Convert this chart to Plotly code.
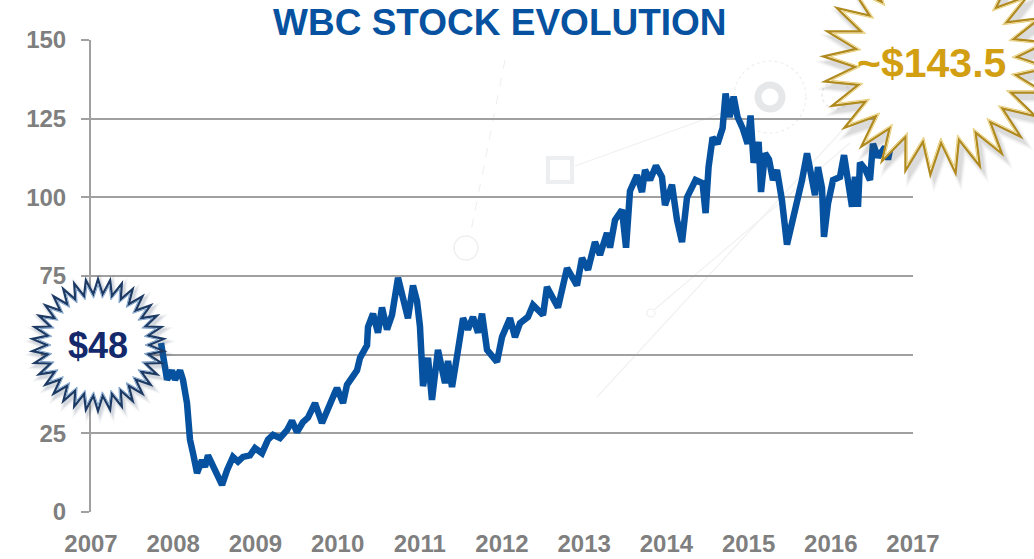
import math
import plotly.graph_objects as go

# ---------------- data ----------------
years = [2007.852, 2007.876, 2007.925, 2007.985, 2008.022, 2008.083, 2008.119, 2008.168,
         2008.204, 2008.241, 2008.290, 2008.350, 2008.387, 2008.423, 2008.484, 2008.545,
         2008.594, 2008.655, 2008.727, 2008.788, 2008.849, 2008.934, 2008.995, 2009.080,
         2009.153, 2009.214, 2009.299, 2009.384, 2009.445, 2009.506, 2009.579, 2009.640,
         2009.725, 2009.810, 2009.883, 2009.968, 2009.993, 2010.066, 2010.114, 2010.236,
         2010.273, 2010.358, 2010.370, 2010.431, 2010.491, 2010.540, 2010.601, 2010.662,
         2010.735, 2010.783, 2010.856, 2010.917, 2010.966, 2011.002, 2011.027, 2011.039,
         2011.100, 2011.148, 2011.221, 2011.307, 2011.343, 2011.392, 2011.465, 2011.526,
         2011.586, 2011.647, 2011.708, 2011.757, 2011.818, 2011.891, 2011.939, 2012.000,
         2012.097, 2012.158, 2012.219, 2012.316, 2012.377, 2012.499, 2012.547, 2012.681,
         2012.791, 2012.912, 2012.973, 2013.046, 2013.131, 2013.192, 2013.277, 2013.314,
         2013.375, 2013.460, 2013.509, 2013.557, 2013.642, 2013.703, 2013.740, 2013.801,
         2013.873, 2013.946, 2013.983, 2014.068, 2014.129, 2014.190, 2014.251, 2014.355,
         2014.440, 2014.477, 2014.513, 2014.562, 2014.623, 2014.684, 2014.720, 2014.769,
         2014.818, 2014.866, 2014.927, 2014.988, 2015.024, 2015.061, 2015.122, 2015.151,
         2015.200, 2015.248, 2015.297, 2015.345, 2015.406, 2015.467, 2015.528, 2015.589,
         2015.650, 2015.711, 2015.759, 2015.808, 2015.844, 2015.893, 2015.917, 2015.966,
         2016.027, 2016.112, 2016.161, 2016.209, 2016.258, 2016.294, 2016.331, 2016.355,
         2016.416, 2016.477, 2016.513, 2016.574, 2016.659, 2016.696, 2016.757]
prices = [53.7, 50.5, 42.0, 45.0, 42.0, 45.0, 42.0, 34.6,
          23.0, 18.7, 12.4, 16.5, 14.3, 18.0, 14.3, 11.0,
          8.6, 13.3, 17.5, 16.0, 17.5, 18.0, 20.3, 18.7,
          23.0, 24.5, 23.5, 26.0, 29.0, 25.4, 28.6, 30.0,
          34.6, 28.3, 33.4, 38.0, 39.4, 34.6, 40.4, 45.0,
          49.0, 53.0, 58.8, 63.0, 57.0, 65.0, 58.0, 62.6,
          74.4, 69.6, 61.6, 72.0, 67.0, 59.0, 48.0, 40.0,
          49.0, 35.6, 51.5, 41.0, 48.0, 39.7, 51.5, 61.6,
          58.0, 62.0, 57.0, 63.0, 51.5, 49.0, 47.7, 55.6,
          61.6, 55.6, 60.0, 62.0, 65.8, 62.6, 71.5, 65.0,
          77.5, 72.0, 80.7, 77.0, 85.8, 81.7, 88.7, 84.0,
          92.8, 96.0, 84.0, 102.0, 107.0, 101.7, 108.7, 105.5,
          110.0, 106.5, 97.5, 104.0, 92.8, 85.8, 100.0, 105.5,
          104.5, 95.0, 109.6, 119.0, 117.0, 122.0, 133.0, 125.5,
          132.0, 125.5, 122.0, 117.0, 126.0, 111.0, 117.6, 101.7,
          114.0, 112.0, 105.5, 108.7, 99.0, 85.0, 92.0, 97.0,
          105.5, 114.0, 107.7, 100.7, 109.6, 103.0, 87.4, 98.0,
          105.5, 106.5, 113.4, 105.5, 97.0, 106.5, 97.0, 111.0,
          109.0, 105.5, 117.0, 112.8, 116.0, 112.0, 120.0]

x_ticks = [2007, 2008, 2009, 2010, 2011, 2012, 2013, 2014, 2015, 2016, 2017]
y_ticks = [0, 25, 50, 75, 100, 125, 150]
title_text = "WBC STOCK EVOLUTION"
start_label = "$48"
end_label = "~$143.5"

# ---------------- layout geometry ----------------
W, H = 1034, 559
L, R, T, B = 91, 913, 40, 512   # plot-area edges in pixels

def px(x):
    return (x - L) / (R - L)

def py(y):
    return (B - y) / (B - T)

def star_path(cx, cy, r_out, r_in, n, rot=0.0):
    pts = []
    for i in range(2 * n):
        a = rot + math.pi * i / n
        r = r_out if i % 2 == 0 else r_in
        xx = cx + r * math.sin(a)
        yy = cy - r * math.cos(a)
        pts.append(f"{px(xx):.5f},{py(yy):.5f}")
    return "M" + " L".join(pts) + " Z"

def circle(cx, cy, r, color, width, dash="solid", layer="below"):
    return dict(type="circle", xref="paper", yref="paper",
                x0=px(cx - r), x1=px(cx + r), y0=py(cy + r), y1=py(cy - r),
                line=dict(color=color, width=width, dash=dash),
                fillcolor="rgba(0,0,0,0)", layer=layer)

def seg(x0, y0, x1, y1, color, width, dash="solid"):
    return dict(type="line", xref="paper", yref="paper",
                x0=px(x0), y0=py(y0), x1=px(x1), y1=py(y1),
                line=dict(color=color, width=width, dash=dash), layer="below")

GRAY = "#A0A0A0"
LABEL = "#7F7F7F"
BLUE = "#0652A0"
FONT = "Liberation Sans, Arial"

fig = go.Figure()
fig.add_trace(go.Scatter(x=years, y=prices, mode="lines",
                         line=dict(color=BLUE, width=6.5, shape="linear"),
                         hoverinfo="skip", showlegend=False))

shapes = []
# faint decorative background
deco = "#EDEEF0"
shapes.append(seg(505, 60, 470, 236, "#EEEEEE", 1, "dash"))
shapes.append(circle(466, 248, 12, "#EFEFEF", 1.5))
shapes.append(dict(type="rect", xref="paper", yref="paper",
                   x0=px(548), x1=px(572), y0=py(182), y1=py(158),
                   line=dict(color=deco, width=4), layer="below"))
shapes.append(seg(575, 166, 722, 113, "#F0F0F0", 1.2))
shapes.append(circle(770, 97, 36, "#EEEEEE", 1.2, "dot"))
shapes.append(circle(770, 97, 12, "#E6E7E9", 7))
shapes.append(seg(597, 397, 850, 122, "#F1F1F1", 1.2))
shapes.append(seg(654, 310, 850, 143, "#F1F1F1", 1.2))
shapes.append(circle(651, 313, 4, "#EFEFEF", 1.2))
shapes.append(circle(836, 95, 14, "#EEEEEE", 2, "dot"))

# left starburst ($48): glow + body
LCX, LCY = 98, 345
for k, op in [(10, 0.06), (7, 0.08), (4, 0.10)]:
    shapes.append(dict(type="path", xref="paper", yref="paper",
                       path=star_path(LCX + 2, LCY + 3, 66 + k, 51 + k, 34),
                       fillcolor=f"rgba(60,80,110,{op})", line=dict(width=0), layer="above"))
shapes.append(dict(type="path", xref="paper", yref="paper",
                   path=star_path(LCX, LCY, 66, 51, 34),
                   fillcolor="#DCE6F2", line=dict(color="#1C3A63", width=2.2), layer="above"))
shapes.append(dict(type="path", xref="paper", yref="paper",
                   path=star_path(LCX, LCY, 60, 47, 34),
                   fillcolor="#FFFFFF", line=dict(color="#7FA3CC", width=1), layer="above"))

# right starburst (~$143.5)
RCX, RCY = 936, 62
for k, op in [(12, 0.05), (8, 0.07), (4, 0.09)]:
    shapes.append(dict(type="path", xref="paper", yref="paper",
                       path=star_path(RCX + 4, RCY + 6, 113 + k, 81 + k, 28, rot=0.05),
                       fillcolor=f"rgba(80,80,80,{op})", line=dict(width=0), layer="above"))
shapes.append(dict(type="path", xref="paper", yref="paper",
                   path=star_path(RCX, RCY, 113, 81, 28, rot=0.05),
                   fillcolor="#FBF3DC", line=dict(color="#B08A1E", width=2.2), layer="above"))
shapes.append(dict(type="path", xref="paper", yref="paper",
                   path=star_path(RCX, RCY, 106, 76, 28, rot=0.05),
                   fillcolor="#FFFFFF", line=dict(color="#E8CF7A", width=1), layer="above"))

annotations = [
    dict(text=title_text, xref="paper", yref="paper", x=px(500), y=py(22),
         xanchor="center", yanchor="middle", showarrow=False,
         font=dict(family=FONT, size=37, color="#0652A0", weight="bold")),
    dict(text=start_label, xref="paper", yref="paper", x=px(98), y=py(345),
         xanchor="center", yanchor="middle", showarrow=False,
         font=dict(family=FONT, size=36, color="#14296B", weight="bold")),
    dict(text=end_label, xref="paper", yref="paper", x=px(932), y=py(63),
         xanchor="center", yanchor="middle", showarrow=False,
         font=dict(family=FONT, size=41, color="#D29E12", weight="bold")),
]

fig.update_layout(
    width=W, height=H,
    margin=dict(l=L, r=W - R, t=T, b=H - B, pad=0),
    paper_bgcolor="white", plot_bgcolor="white",
    showlegend=False,
    shapes=shapes, annotations=annotations,
    font=dict(family=FONT, color=LABEL),
    xaxis=dict(range=[2007, 2017], tickmode="array", tickvals=x_ticks,
               ticktext=[str(t) for t in x_ticks], automargin=False,
               showgrid=False, zeroline=False, showline=False, ticks="",
               ticklabelstandoff=15,
               tickfont=dict(family=FONT, size=24, color=LABEL, weight="bold")),
    yaxis=dict(range=[0, 150], tickmode="array", tickvals=y_ticks, automargin=False,
               showgrid=True, gridcolor=GRAY, gridwidth=2,
               zeroline=False, showline=True, linecolor=GRAY, linewidth=2,
               ticks="outside", ticklen=8, tickwidth=2, tickcolor=GRAY,
               ticklabelstandoff=10,
               tickfont=dict(family=FONT, size=24, color=LABEL, weight="bold")),
)

fig.write_html("out.html", config={"displayModeBar": False},
               post_script="document.body.style.margin='0px';")
